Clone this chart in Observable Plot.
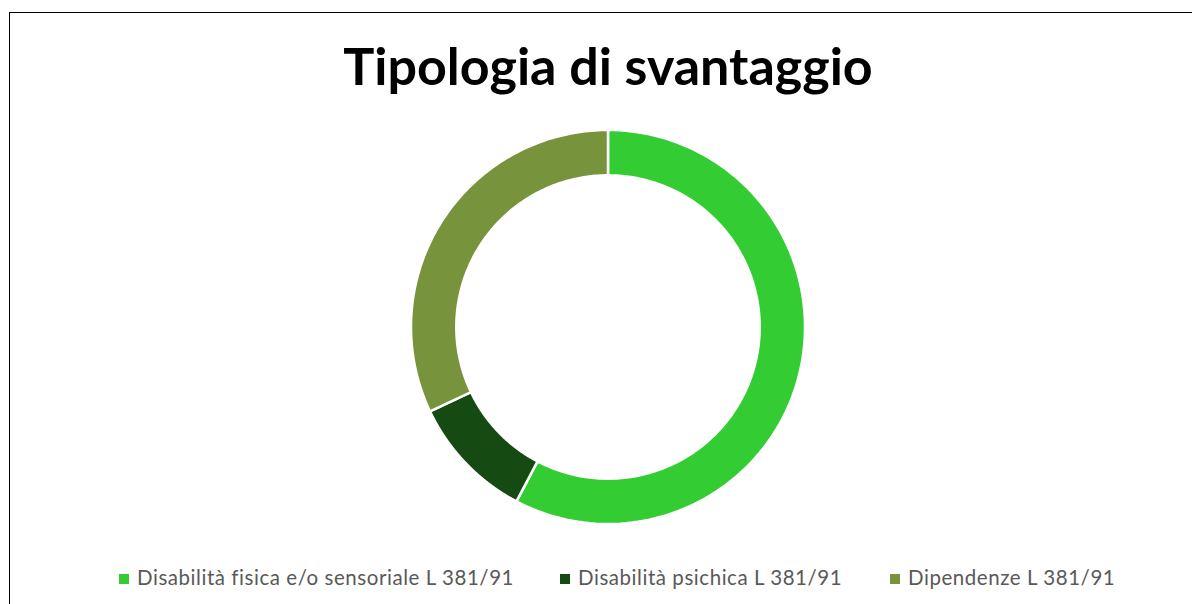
<!DOCTYPE html>
<html>
<head>
<meta charset="utf-8">
<script src="https://cdn.jsdelivr.net/npm/d3@7"></script>
<script src="https://cdn.jsdelivr.net/npm/@observablehq/plot@0.6"></script>
<style>
  html, body { margin: 0; padding: 0; background: #fff; }
  #page { position: relative; width: 1192px; height: 604px; overflow: hidden; background: #fff; }
  #frame { position: absolute; left: 9px; top: 12px; width: 1300px; height: 700px; border: 1.5px solid #000; box-sizing: border-box; }
  #title { position: absolute; left: 0; top: 39px; width: 1216px; text-align: center; font-family: Lato, sans-serif; font-weight: 700; font-size: 52px; color: #000; line-height: 1; }
  #chart { position: absolute; left: 398px; top: 117px; }
  .leg { position: absolute; top: 565px; font-family: Lato, sans-serif; font-weight: 400; font-size: 20.5px; letter-spacing: 0.55px; color: #595959; white-space: nowrap; line-height: 24px; }
  .sw { display: inline-block; width: 10px; height: 10px; margin-right: 8px; vertical-align: 1px; }
</style>
</head>
<body>
<div id="page">
  <div id="frame"></div>
  <div id="title"></div>
  <div id="chart"></div>
</div>
<script>
const title = "Tipologia di svantaggio";
const categories = ["Disabilità fisica e/o sensoriale L 381/91", "Disabilità psichica L 381/91", "Dipendenze L 381/91"];
const values = [45, 8, 25];
const colors = ["#33CC33", "#154A12", "#77933C"];
const legendLeft = [119, 560, 890];

document.getElementById("title").textContent = title;

const outerR = 1, innerR = 0.77, half = 210 / 197;
const arcs = d3.pie().sort(null).value(d => d.value)(categories.map((name, i) => ({name, value: values[i]})));
const pts = [];
for (const a of arcs) {
  const n = 120;
  for (let k = 0; k <= n; k++) {
    const t = a.startAngle + (a.endAngle - a.startAngle) * k / n;
    pts.push({name: a.data.name, xi: innerR * Math.sin(t), yi: innerR * Math.cos(t), xo: outerR * Math.sin(t), yo: outerR * Math.cos(t)});
  }
}

const chart = Plot.plot({
  width: 420, height: 420, margin: 0,
  x: {axis: null, domain: [-half, half]},
  y: {axis: null, domain: [-half, half]},
  color: {domain: categories, range: colors},
  marks: [
    Plot.area(pts, {x1: "xi", y1: "yi", x2: "xo", y2: "yo", z: "name", fill: "name", stroke: "white", strokeWidth: 2.5, curve: "linear"})
  ]
});
document.getElementById("chart").appendChild(chart);

const page = document.getElementById("page");
categories.forEach((c, i) => {
  const d = document.createElement("div");
  d.className = "leg";
  d.style.left = legendLeft[i] + "px";
  const s = document.createElement("span");
  s.className = "sw";
  s.style.background = colors[i];
  d.appendChild(s);
  d.appendChild(document.createTextNode(c));
  page.appendChild(d);
});
</script>
</body>
</html>
